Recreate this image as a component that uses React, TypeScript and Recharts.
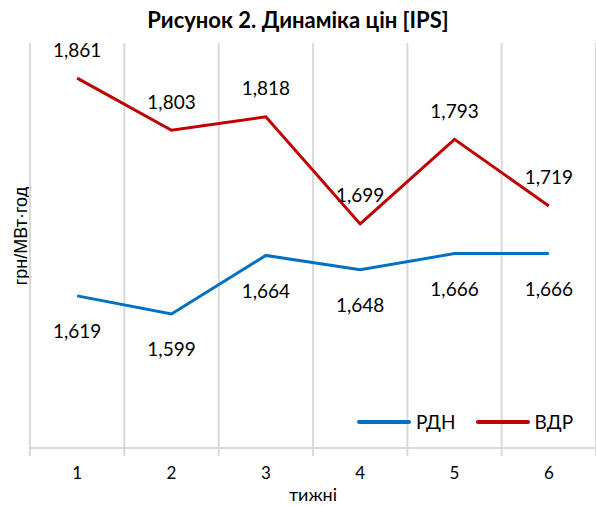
import React from 'react';
import { LineChart, Line, XAxis, YAxis, CartesianGrid, Legend, LabelList } from 'recharts';

const weeks = [1, 2, 3, 4, 5, 6];
const rdn = [1619, 1599, 1664, 1648, 1666, 1666];
const vdr = [1861, 1803, 1818, 1699, 1793, 1719];
const bounds = [0.5, 1.5, 2.5, 3.5, 4.5, 5.5, 6.5];
const axisTicks = [0.5, 1, 1.5, 2, 2.5, 3, 3.5, 4, 4.5, 5, 5.5, 6, 6.5];

const data = weeks.map((w, i) => ({ week: w, rdn: rdn[i], vdr: vdr[i] }));

const FONT = 'Lato, "Open Sans", sans-serif';
const BLUE = '#0070C0';
const RED = '#C00000';
const GRID = '#d9d9d9';

const fmt = (v: number) => v.toLocaleString('en-US');

const WeekTick = (props: any) => {
    const { x, y, payload } = props;
    const v = payload.value;
    if (!Number.isInteger(v)) {
        return <line x1={x} x2={x} y1={y - 8} y2={y} stroke={GRID} strokeWidth={2} />;
    }
    return (
        <text x={x} y={y + 23} textAnchor="middle" fontSize={17} fontFamily={FONT} fill="#000">
            {v}
        </text>
    );
};

const topLabel = (props: any) => (
    <text x={props.x} y={props.y - 29} textAnchor="middle" dominantBaseline="central"
        fontSize={19} fontFamily={FONT} fill="#000">
        {fmt(props.value)}
    </text>
);

const bottomLabel = (props: any) => (
    <text x={props.x} y={props.y + 35} textAnchor="middle" dominantBaseline="central"
        fontSize={19} fontFamily={FONT} fill="#000">
        {fmt(props.value)}
    </text>
);

const LegendBox = () => (
    <div style={{ display: 'flex', alignItems: 'center', fontFamily: FONT, fontSize: 19 }}>
        {[{ name: 'РДН', color: BLUE }, { name: 'ВДР', color: RED }].map((it, i) => (
            <div key={it.name} style={{ display: 'flex', alignItems: 'center', marginLeft: i ? 20 : 0 }}>
                <svg width={54} height={6}>
                    <line x1={2} x2={52} y1={3} y2={3} stroke={it.color} strokeWidth={4} strokeLinecap="round" />
                </svg>
                <span style={{ marginLeft: 5 }}>{it.name}</span>
            </div>
        ))}
    </div>
);

export default function App() {
    return (
        <div style={{ position: 'absolute', left: 0, top: 0, width: 596, height: 506, background: '#fff' }}>
            <div style={{ position: 'absolute', left: 0, width: 596, top: 6, textAlign: 'center', fontFamily: FONT, fontWeight: 700, fontSize: 22 }}>
                Рисунок 2. Динаміка цін [IPS]
            </div>
            <div style={{ position: 'absolute', left: 21, top: 236, transform: 'translate(-50%, -50%) rotate(-90deg)', whiteSpace: 'nowrap', fontFamily: '"Liberation Sans", Arial, sans-serif', fontSize: 18 }}>
                грн/МВт·год
            </div>
            <LineChart width={596} height={506} data={data} margin={{ top: 43, right: 0, left: 30, bottom: 0 }}>
                <CartesianGrid xAxisId="grid" horizontal={false} stroke={GRID} strokeWidth={2} />
                <XAxis xAxisId="grid" dataKey="week" type="number" domain={[0.5, 6.5]} ticks={bounds} hide />
                <XAxis dataKey="week" type="number" domain={[0.5, 6.5]} ticks={axisTicks} interval={0}
                    height={58} tickLine={false} tickSize={8} tickMargin={0} tick={<WeekTick />}
                    axisLine={{ stroke: GRID, strokeWidth: 2 }}
                    label={{ value: 'тижні', position: 'insideBottom', offset: 5, fontSize: 18, fontFamily: FONT, fill: '#000' }} />
                <YAxis hide domain={[1450, 1900]} />
                <Legend layout="horizontal" verticalAlign="middle" align="center" content={<LegendBox />}
                    wrapperStyle={{ left: 357, top: 410, width: 240, height: 26 }} />
                <Line dataKey="rdn" name="РДН" stroke={BLUE} strokeWidth={3} dot={false} isAnimationActive={false}>
                    <LabelList dataKey="rdn" content={bottomLabel} />
                </Line>
                <Line dataKey="vdr" name="ВДР" stroke={RED} strokeWidth={3} dot={false} isAnimationActive={false}>
                    <LabelList dataKey="vdr" content={topLabel} />
                </Line>
            </LineChart>
        </div>
    );
}
